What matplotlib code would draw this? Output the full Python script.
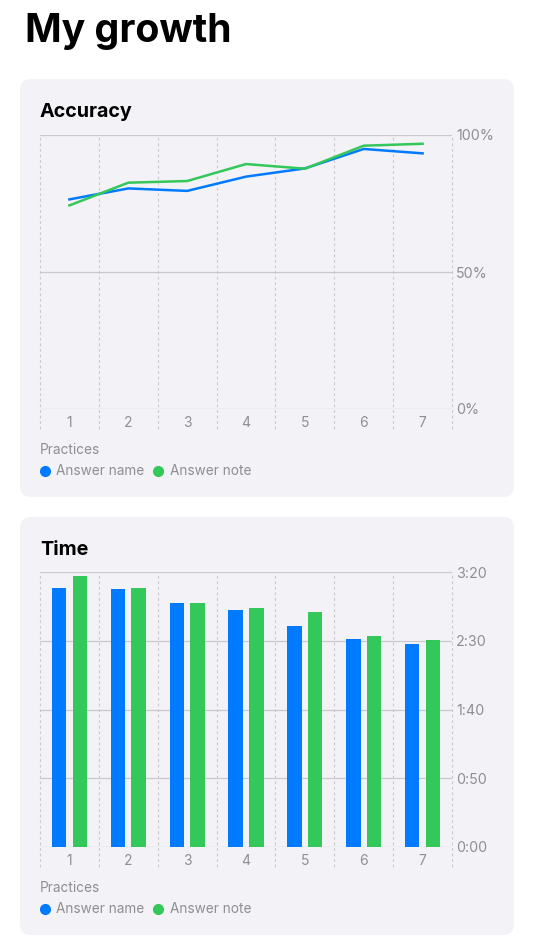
import matplotlib
matplotlib.use("Agg")
import matplotlib.pyplot as plt
from matplotlib.patches import FancyBboxPatch

plt.rcParams['font.family'] = ['Inter', 'DejaVu Sans']

# --- dados ---
practices = [1, 2, 3, 4, 5, 6, 7]
acc_name = [76.5, 80.5, 79.6, 84.8, 87.8, 94.9, 93.3]
acc_note = [74.3, 82.6, 83.2, 89.4, 87.7, 96.1, 96.8]
acc_ticks = [0, 50, 100]
acc_labels = ['0%', '50%', '100%']

# tempo em segundos
time_name = [188.6, 187.9, 177.7, 172.2, 160.5, 151.3, 147.4]
time_note = [197.1, 188.6, 177.2, 174.0, 170.8, 153.2, 150.3]
time_ticks = [0, 50, 100, 150, 200]
time_labels = [f"{t // 60}:{t % 60:02d}" for t in time_ticks]

series_names = ['Answer name', 'Answer note']

BLUE = '#007AFF'
GREEN = '#34C759'
GRAY = '#8E8E93'
GRID = '#C9C9CE'
CARD = '#F2F2F7'

W, H = 534, 950
fig = plt.figure(figsize=(W / 100, H / 100), dpi=100)
fig.patch.set_facecolor('white')

# eixo de fundo em pixels (cards, titulos, legendas)
bg = fig.add_axes([0, 0, 1, 1], zorder=0)
bg.set_xlim(0, W)
bg.set_ylim(H, 0)
bg.axis('off')


def px_axes(left, top, right, bottom):
    return fig.add_axes([left / W, 1 - bottom / H, (right - left) / W, (bottom - top) / H], zorder=1)


bg.text(25, 42, 'My growth', fontsize=28.3, fontweight='bold', color='black', va='baseline')


def card(top, title, ax_top, ax_bottom, ticks, labels, ymax):
    bg.add_patch(FancyBboxPatch((20, top), 494, 418, boxstyle='round,pad=0,rounding_size=11',
                                facecolor=CARD, edgecolor='none'))
    bg.text(40, top + 38, title, fontsize=14.2, fontweight='bold', color='black', va='baseline')

    ax = px_axes(40, ax_top, 452, ax_bottom)
    ax.set_facecolor('none')
    ax.set_xlim(0.5, 7.5)
    ax.set_ylim(0, ymax)
    for s in ax.spines.values():
        s.set_visible(False)
    for t in ticks:
        ax.axhline(t, color=GRID, lw=0.9, zorder=1)
    ext = 20 / (ax_bottom - ax_top)
    for xv in [0.5 + i for i in range(8)]:
        ax.plot([xv, xv], [-ext, 1], transform=ax.get_xaxis_transform(), color=GRID,
                lw=0.8, ls=(0, (2.5, 2.5)), clip_on=False, zorder=1)
    ax.set_xticks(practices)
    ax.set_xticklabels([str(p) for p in practices], fontsize=10, color=GRAY)
    ax.tick_params(axis='x', length=0, pad=5)
    ax.yaxis.tick_right()
    ax.set_yticks(ticks)
    ax.set_yticklabels(labels, fontsize=10.3, color=GRAY)
    ax.tick_params(axis='y', length=0, pad=3)

    # legenda
    base = ax_bottom
    bg.text(40, base + 45, 'Practices', fontsize=9.8, color=GRAY, va='baseline')
    bg.plot([45], [base + 62], 'o', ms=7, color=BLUE)
    bg.text(56.5, base + 66, series_names[0], fontsize=9.8, color=GRAY, va='baseline')
    bg.plot([158.3], [base + 62], 'o', ms=7, color=GREEN)
    bg.text(170.5, base + 66, series_names[1], fontsize=9.8, color=GRAY, va='baseline')
    return ax


ax1 = card(79, 'Accuracy', 135, 409, acc_ticks, acc_labels, 100)
ax1.plot(practices, acc_name, color=BLUE, lw=1.8, zorder=3, solid_joinstyle='round')
ax1.plot(practices, acc_note, color=GREEN, lw=1.8, zorder=3, solid_joinstyle='round')

ax2 = card(517, 'Time', 572, 847, time_ticks, time_labels, 200)
off = 0.177
larg = 0.245
ax2.bar([p - off for p in practices], time_name, width=larg, color=BLUE, zorder=3)
ax2.bar([p + off for p in practices], time_note, width=larg, color=GREEN, zorder=3)

plt.savefig('out.png', dpi=100, facecolor='white')
